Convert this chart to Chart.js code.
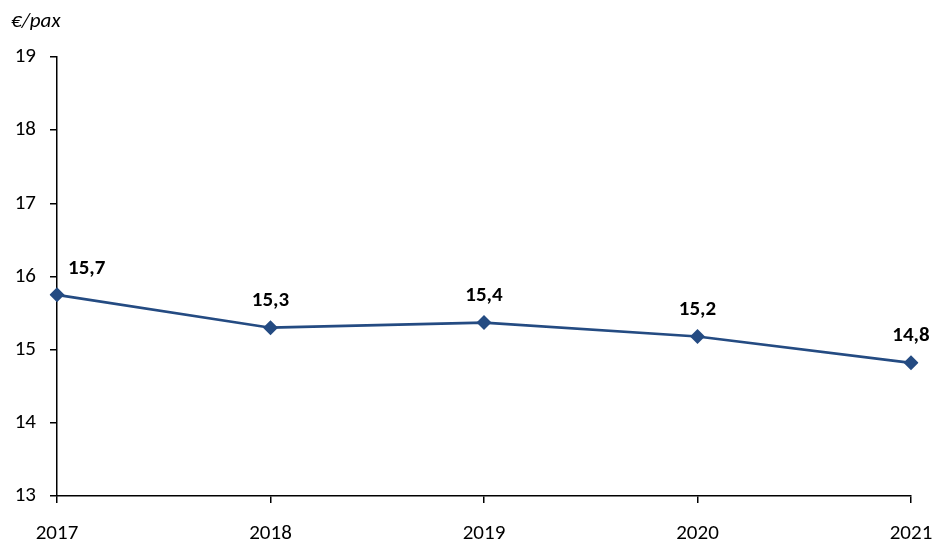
<!DOCTYPE html>
<html>
<head>
<meta charset="utf-8">
<script src="https://cdn.jsdelivr.net/npm/chart.js@4/dist/chart.umd.min.js"></script>
<style>
  html, body { margin: 0; padding: 0; background: #fff; }
  #wrap { width: 939px; height: 545px; }
</style>
</head>
<body>
<div id="wrap"><canvas id="costChart" width="939" height="545"></canvas></div>
<script>
// chart data
const years = ['2017', '2018', '2019', '2020', '2021'];
const costPerPax = [15.75, 15.30, 15.37, 15.18, 14.82];
const valueLabels = ['15,7', '15,3', '15,4', '15,2', '14,8'];
const yTicks = [13, 14, 15, 16, 17, 18, 19];
const unitLabel = '€/pax';

const FONT = 'Carlito, Calibri, "Open Sans", sans-serif';
const lineColor = '#244b82';

// draws the unit title and point value labels
const labelPlugin = {
  id: 'valueLabels',
  afterDatasetsDraw(chart) {
    const ctx = chart.ctx;
    const pts = chart.getDatasetMeta(0).data;
    ctx.save();
    ctx.fillStyle = '#000';
    ctx.font = 'bold 21px ' + FONT;
    ctx.textBaseline = 'middle';
    pts.forEach((p, i) => {
      if (i === 0) {
        ctx.textAlign = 'left';
        ctx.fillText(valueLabels[i], p.x + 11, p.y - 26);
      } else {
        ctx.textAlign = 'center';
        ctx.fillText(valueLabels[i], p.x, p.y - 27);
      }
    });
    ctx.font = 'italic 21px ' + FONT;
    ctx.textAlign = 'left';
    ctx.fillText(unitLabel, 11, 22);
    ctx.restore();
  }
};

new Chart(document.getElementById('costChart').getContext('2d'), {
  type: 'line',
  data: {
    labels: years,
    datasets: [{
      data: costPerPax,
      borderColor: lineColor,
      backgroundColor: lineColor,
      borderWidth: 2.7,
      pointStyle: 'rectRot',
      pointRadius: 7.5,
      pointHoverRadius: 7.5,
      pointBorderWidth: 0,
      tension: 0,
      fill: false
    }]
  },
  options: {
    responsive: false,
    animation: false,
    layout: { padding: { top: 57, right: 28, left: 0, bottom: 0 } },
    plugins: { legend: { display: false }, tooltip: { enabled: false } },
    scales: {
      x: {
        offset: false,
        grid: { drawOnChartArea: false, tickLength: 7, color: '#000', lineWidth: 1.5 },
        border: { color: '#000', width: 1.5 },
        ticks: { color: '#000', font: { family: FONT, size: 21 }, padding: 18, maxRotation: 0, autoSkip: false },
        afterFit(scale) {
          scale.height = 49;
          scale.paddingLeft = 0;
          scale.paddingRight = 0;
        }
      },
      y: {
        min: 13,
        max: 19,
        afterBuildTicks(scale) { scale.ticks = yTicks.map(v => ({ value: v })); },
        grid: { drawOnChartArea: false, tickLength: 7, color: '#000', lineWidth: 1.5 },
        border: { color: '#000', width: 1.5 },
        ticks: { color: '#000', font: { family: FONT, size: 21 }, padding: 14 },
        afterFit(scale) { scale.width = 57; }
      }
    }
  },
  plugins: [labelPlugin]
});
</script>
</body>
</html>
